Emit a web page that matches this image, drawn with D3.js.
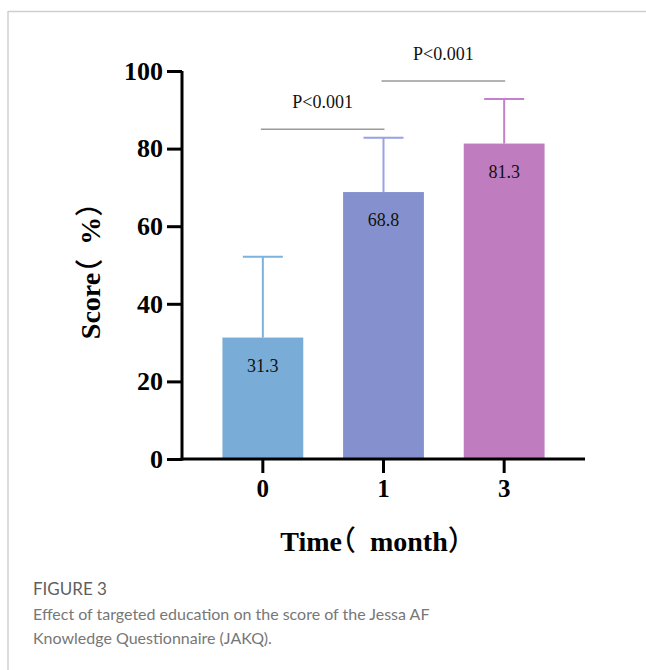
<!DOCTYPE html>
<html>
<head>
<meta charset="utf-8">
<script src="https://cdn.jsdelivr.net/npm/d3@7"></script>
<style>
  html, body { margin: 0; padding: 0; background: #fff; }
  svg { display: block; }
  .bracket { font-family: "Noto Sans CJK SC", sans-serif; font-feature-settings: "halt" 1; font-weight: 500; }
</style>
</head>
<body>
<svg id="chart" width="646" height="670"></svg>
<script>
// Knowledge score (%) at each follow-up month
const months = ["0", "1", "3"];
const meanScore = [31.3, 68.8, 81.3];
const sdScore = [20.8, 14.0, 11.5];
const yTicks = [0, 20, 40, 60, 80, 100];
const barFill = ["#79acd6", "#8591ce", "#bf7dc0"];
const errColor = ["#7cb2de", "#98a1e6", "#c480cc"];
// pairwise comparisons: [from, to, label, bracket height]
const comparisons = [["0", "1", "P<0.001", 85], ["1", "3", "P<0.001", 97.4]];

const svg = d3.select("#chart");

// panel frame
svg.append("line").attr("x1", 8).attr("x2", 646).attr("y1", 11.5).attr("y2", 11.5)
  .attr("stroke", "#cfcfcf").attr("stroke-width", 1.5);
svg.append("line").attr("x1", 8).attr("x2", 8).attr("y1", 11).attr("y2", 670)
  .attr("stroke", "#cfcfcf").attr("stroke-width", 1.5);

const x = d3.scaleBand().domain(months).range([182, 585])
  .paddingInner(0.33).paddingOuter(0.335);
const y = d3.scaleLinear().domain([0, 100]).range([459, 71]);

const serif = "'Liberation Serif', 'Times New Roman', serif";

// error bars (upper only)
const eb = svg.append("g");
months.forEach((m, i) => {
  const cx = x(m) + x.bandwidth() / 2;
  const top = y(meanScore[i] + sdScore[i]);
  eb.append("line").attr("x1", cx).attr("x2", cx)
    .attr("y1", y(meanScore[i])).attr("y2", top)
    .attr("stroke", errColor[i]).attr("stroke-width", 2);
  eb.append("line").attr("x1", cx - 20).attr("x2", cx + 20)
    .attr("y1", top).attr("y2", top)
    .attr("stroke", errColor[i]).attr("stroke-width", 2);
});

// bars
svg.append("g").selectAll("rect").data(months).join("rect")
  .attr("x", d => x(d))
  .attr("width", x.bandwidth())
  .attr("y", (d, i) => y(meanScore[i]))
  .attr("height", (d, i) => y(0) - y(meanScore[i]))
  .attr("fill", (d, i) => barFill[i]);

// value labels inside bars
svg.append("g").selectAll("text").data(months).join("text")
  .attr("x", d => x(d) + x.bandwidth() / 2)
  .attr("y", (d, i) => y(meanScore[i]) + 34)
  .attr("text-anchor", "middle")
  .attr("font-family", serif).attr("font-size", 18).attr("fill", "#111")
  .text((d, i) => meanScore[i].toFixed(1));

// y axis
const yAxis = svg.append("g").attr("transform", "translate(182,0)")
  .call(d3.axisLeft(y).tickValues(yTicks).tickSize(15).tickPadding(4));
yAxis.select(".domain").attr("stroke", "#000").attr("stroke-width", 3)
  .attr("d", `M0,${y(0) + 1.5}V${y(100)}`);
yAxis.selectAll(".tick line").attr("stroke", "#000").attr("stroke-width", 3);
yAxis.selectAll(".tick text").attr("font-family", serif).attr("font-weight", "bold")
  .attr("font-size", 26).attr("fill", "#000");

// x axis
const xAxis = svg.append("g").attr("transform", `translate(0,${y(0)})`)
  .call(d3.axisBottom(x).tickSize(14).tickPadding(6));
xAxis.select(".domain").attr("stroke", "#000").attr("stroke-width", 3)
  .attr("d", "M180.5,0H585");
xAxis.selectAll(".tick line").attr("stroke", "#000").attr("stroke-width", 3);
xAxis.selectAll(".tick text").attr("font-family", serif).attr("font-weight", "bold")
  .attr("font-size", 25).attr("fill", "#000");

// axis titles: word, half-width CJK opening bracket, then the unit
function axisTitle(sel, word, unit) {
  sel.attr("text-anchor", "middle")
    .attr("font-family", serif).attr("font-weight", "bold").attr("font-size", 28)
    .attr("fill", "#000");
  sel.append("tspan").text(word);
  sel.append("tspan").attr("class", "bracket").text("（");
  sel.append("tspan").text("\u00a0\u00a0" + unit);
  sel.append("tspan").attr("class", "bracket").text("）");
}
axisTitle(svg.append("text").attr("transform", "translate(100,271) rotate(-90)"), "Score", "%");
axisTitle(svg.append("text").attr("x", 371).attr("y", 551), "Time", "month");

// significance brackets
const sig = svg.append("g");
comparisons.forEach(([a, b, label, level]) => {
  const x1 = x(a) + x.bandwidth() / 2 - 2;
  const x2 = x(b) + x.bandwidth() / 2 + 1;
  const yy = y(level);
  sig.append("line").attr("x1", x1).attr("x2", x2).attr("y1", yy).attr("y2", yy)
    .attr("stroke", "#9a9a9a").attr("stroke-width", 1.5);
  sig.append("text").attr("x", (x1 + x2) / 2).attr("y", yy - 21)
    .attr("text-anchor", "middle")
    .attr("font-family", serif).attr("font-size", 18).attr("fill", "#111")
    .text(label);
});

// caption
const sans = "Lato, 'Open Sans', sans-serif";
svg.append("text").attr("x", 33).attr("y", 595)
  .attr("font-family", sans).attr("font-size", 17).attr("fill", "#5f5f5f")
  .text("FIGURE 3");
svg.append("text").attr("x", 33).attr("y", 620)
  .attr("font-family", sans).attr("font-size", 16).attr("fill", "#777")
  .text("Effect of targeted education on the score of the Jessa AF");
svg.append("text").attr("x", 33).attr("y", 644)
  .attr("font-family", sans).attr("font-size", 16).attr("fill", "#777")
  .text("Knowledge Questionnaire (JAKQ).");
</script>
</body>
</html>
